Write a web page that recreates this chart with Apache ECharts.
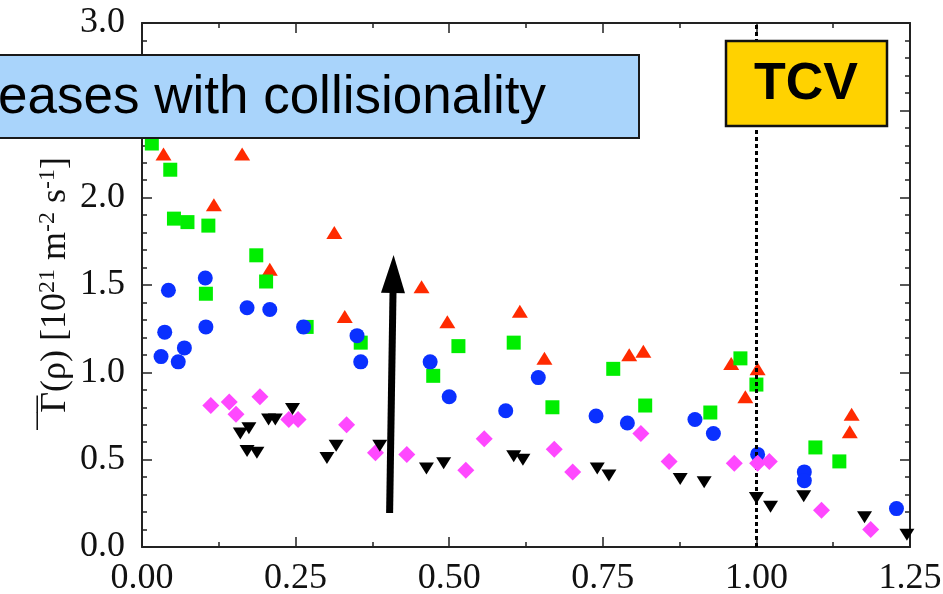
<!DOCTYPE html>
<html><head><meta charset="utf-8">
<script src="https://cdn.jsdelivr.net/npm/echarts@6/dist/echarts.min.js"></script>
<style>html,body{margin:0;padding:0;background:#fff}#c{width:943px;height:594px}</style>
</head><body><div id="c"></div>
<script>
const xTickLabels = ['0.00', '0.25', '0.50', '0.75', '1.00', '1.25'];
const yTickLabels = ['0.0', '0.5', '1.0', '1.5', '2.0', '2.5', '3.0'];

const redUp = [
  [0.035, 2.25], [0.163, 2.25], [0.117, 1.96], [0.208, 1.59], [0.313, 1.80],
  [0.330, 1.32], [0.455, 1.49], [0.497, 1.29], [0.615, 1.35], [0.655, 1.08],
  [0.793, 1.10], [0.816, 1.12], [0.959, 1.05], [0.982, 0.86], [1.002, 1.02],
  [1.155, 0.76], [1.152, 0.66]
];
const greenSquares = [
  [0.016, 2.31], [0.046, 2.16], [0.052, 1.88], [0.074, 1.86], [0.108, 1.84],
  [0.186, 1.67], [0.202, 1.52], [0.104, 1.45], [0.268, 1.26], [0.356, 1.17],
  [0.515, 1.15], [0.474, 0.98], [0.605, 1.17], [0.668, 0.80], [0.767, 1.02],
  [0.819, 0.81], [0.925, 0.77], [0.974, 1.08], [1.000, 0.93], [1.096, 0.57],
  [1.135, 0.49]
];
const blueCircles = [
  [0.043, 1.47], [0.103, 1.54], [0.171, 1.37], [0.208, 1.36], [0.104, 1.26],
  [0.263, 1.26], [0.037, 1.23], [0.069, 1.14], [0.031, 1.09], [0.059, 1.06],
  [0.350, 1.21], [0.356, 1.06], [0.469, 1.06], [0.500, 0.86], [0.592, 0.78],
  [0.645, 0.97], [0.739, 0.75], [0.790, 0.71], [0.900, 0.73], [0.930, 0.65],
  [1.002, 0.53], [1.078, 0.43], [1.078, 0.38], [1.228, 0.22]
];
const magentaDiamonds = [
  [0.112, 0.81], [0.142, 0.83], [0.153, 0.76], [0.192, 0.86], [0.239, 0.73],
  [0.254, 0.73], [0.333, 0.70], [0.380, 0.54], [0.431, 0.53], [0.527, 0.44],
  [0.557, 0.62], [0.671, 0.56], [0.701, 0.43], [0.812, 0.65], [0.858, 0.49],
  [0.964, 0.48], [1.002, 0.48], [1.021, 0.49], [1.106, 0.21], [1.186, 0.10]
];
const blackDown = [
  [0.160, 0.65], [0.174, 0.68], [0.171, 0.55], [0.187, 0.54], [0.206, 0.73],
  [0.217, 0.73], [0.245, 0.79], [0.301, 0.51], [0.316, 0.58], [0.387, 0.58],
  [0.463, 0.45], [0.491, 0.48], [0.605, 0.52], [0.620, 0.50], [0.741, 0.45],
  [0.760, 0.41], [0.876, 0.39], [0.915, 0.37], [1.000, 0.28], [1.023, 0.23],
  [1.077, 0.29], [1.176, 0.17], [1.245, 0.07]
];

const arrowStart = [0.403, 0.195];
const arrowEnd = [0.409, 1.563];
const tcvLineX = 1.0;
const boxText = 'eases with collisionality';
const tcvText = 'TCV';

const serif = '"Liberation Serif", "Times New Roman", serif';
const sans = '"Liberation Sans", Arial, sans-serif';

function baseX(pos, showLabel) {
  return {
    type: 'value', min: 0, max: 1.25, interval: 0.25, position: pos,
    axisLine: { show: true, onZero: false, lineStyle: { color: '#222', width: 2 } },
    axisTick: { show: true, inside: true, length: 10, lineStyle: { color: '#222', width: 1.5 } },
    minorTick: { show: true, splitNumber: 2, length: 5, lineStyle: { color: '#222', width: 1.5 } },
    splitLine: { show: false }, minorSplitLine: { show: false },
    axisLabel: {
      show: showLabel, margin: 14, color: '#111', fontFamily: serif, fontSize: 36,
      formatter: v => xTickLabels[Math.round(v / 0.25)]
    }
  };
}
function baseY(pos, showLabel) {
  return {
    type: 'value', min: 0, max: 3, interval: 0.5, position: pos,
    axisLine: { show: true, onZero: false, lineStyle: { color: '#222', width: 2 } },
    axisTick: { show: true, inside: true, length: 10, lineStyle: { color: '#222', width: 1.5 } },
    minorTick: { show: true, splitNumber: 5, length: 5, lineStyle: { color: '#222', width: 1.5 } },
    splitLine: { show: false }, minorSplitLine: { show: false },
    axisLabel: {
      show: showLabel, margin: 17, color: '#111', fontFamily: serif, fontSize: 36,
      formatter: v => yTickLabels[Math.round(v / 0.5)]
    }
  };
}

const yAxisLeft = baseY('left', true);
yAxisLeft.name = '{m|\u00AF\u00AF}{a|Γ(ρ) [10}{s|21}{a| m}{s|-2}{a| s}{s|-1}{a|]}';
yAxisLeft.nameLocation = 'middle';
yAxisLeft.nameGap = 66;
yAxisLeft.nameMoveOverlap = false;
yAxisLeft.nameTextStyle = {
  color: '#111', fontFamily: serif,
  rich: {
    m: { fontSize: 34, fontFamily: serif, color: '#111', lineHeight: 26, verticalAlign: 'top', width: 0.1 },
    a: { fontSize: 36, fontFamily: serif, color: '#111', lineHeight: 40 },
    s: { fontSize: 24, fontFamily: serif, color: '#111', lineHeight: 26, verticalAlign: 'top' }
  }
};

function scatter(name, data, symbol, size, color, rotate, z) {
  return {
    type: 'scatter', name, data, symbol, symbolSize: size, symbolRotate: rotate || 0,
    itemStyle: { color, opacity: 1 }, z, silent: true, animation: false
  };
}

const chart = echarts.init(document.getElementById('c'), null, { renderer: 'canvas' });
chart.setOption({
  backgroundColor: '#fff',
  animation: false,
  grid: { left: 142, right: 33, top: 23, bottom: 47, containLabel: false, outerBoundsMode: 'none' },
  xAxis: [baseX('bottom', true), baseX('top', false)],
  yAxis: [yAxisLeft, baseY('right', false)],
  series: [
    {
      type: 'scatter', data: [], z: 1, silent: true,
      markLine: {
        silent: true, symbol: 'none', animation: false,
        label: { show: false },
        lineStyle: { color: '#000', width: 3, type: [4, 3] },
        data: [{ xAxis: tcvLineX }]
      }
    },
    scatter('red', redUp, 'triangle', [16, 13], '#ff2a00', 0, 2),
    scatter('green', greenSquares, 'rect', 14, '#00ee00', 0, 3),
    scatter('blue', blueCircles, 'circle', 15, '#0a30ff', 0, 4),
    scatter('magenta', magentaDiamonds, 'diamond', [17, 17], '#ff48ff', 0, 5),
    scatter('black', blackDown, 'triangle', [15, 12], '#000000', 180, 6),
    {
      type: 'scatter', data: [], z: 7, silent: true,
      markLine: {
        silent: true, animation: false,
        label: { show: false },
        lineStyle: { color: '#000', width: 7, type: 'solid' },
        data: [[
          { coord: arrowStart, symbol: 'none' },
          { coord: arrowEnd, symbol: 'triangle', symbolSize: [24, 38] }
        ]]
      }
    }
  ],
  graphic: [
    { type: 'rect', shape: { x: -10, y: 55, width: 649, height: 83 },
      style: { fill: '#a9d4fb', stroke: '#1a1a1a', lineWidth: 2 }, z: 100 },
    { type: 'text', x: -2, y: 98, z: 101,
      style: { text: boxText, fontFamily: sans, fontSize: 53, fill: '#000', align: 'left', verticalAlign: 'middle' } },
    { type: 'rect', shape: { x: 726, y: 41, width: 161, height: 85 },
      style: { fill: '#ffd200', stroke: '#111', lineWidth: 2.5 }, z: 100 },
    { type: 'text', x: 806, y: 85, z: 101,
      style: { text: tcvText, fontFamily: sans, fontWeight: 'bold', fontSize: 52, fill: '#000', align: 'center', verticalAlign: 'middle' } }
  ]
});
</script>
</body></html>
